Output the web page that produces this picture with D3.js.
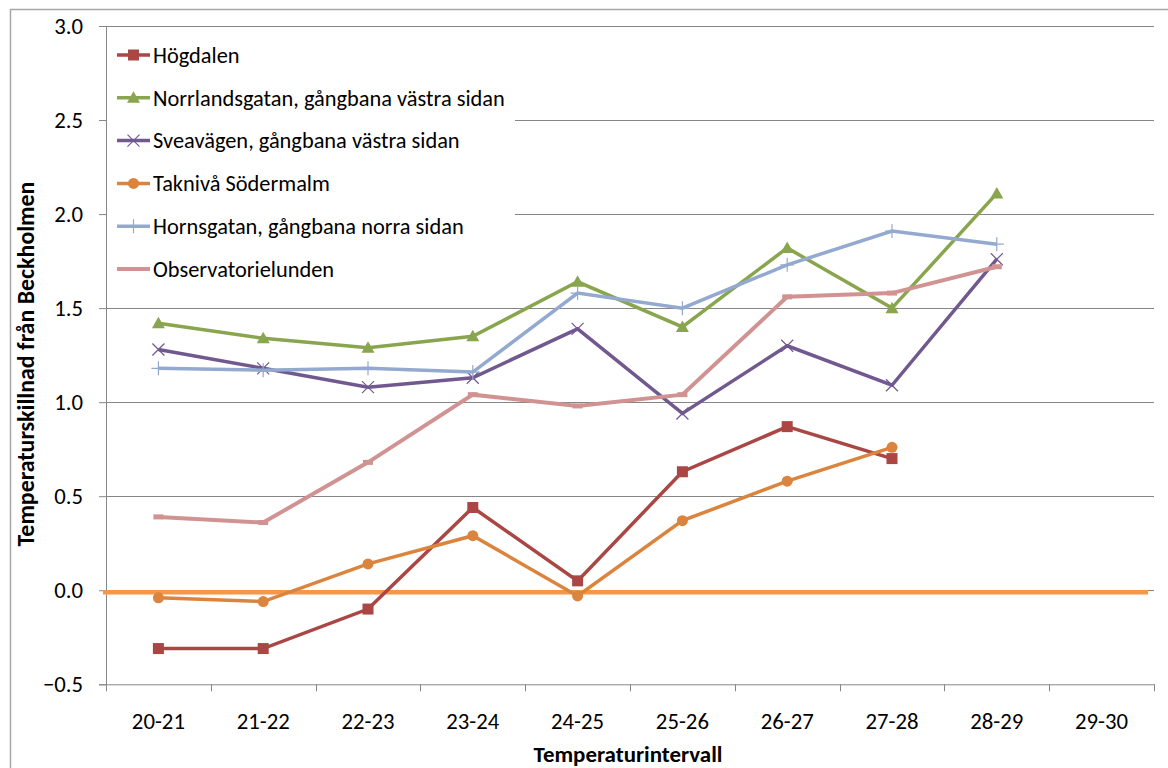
<!DOCTYPE html>
<html><head><meta charset="utf-8">
<script src="https://cdn.jsdelivr.net/npm/d3@7"></script>
<style>
html,body{margin:0;padding:0;background:#fff;}
svg text{font-family:Carlito, Lato, "Open Sans", sans-serif;fill:#000;}
</style></head>
<body>
<svg id="chart" width="1168" height="768"></svg>
<script>
const categories = ["20-21","21-22","22-23","23-24","24-25","25-26","26-27","27-28","28-29","29-30"];
const hogdalen   = [-0.31,-0.31,-0.10,0.44,0.05,0.63,0.87,0.70,null,null];
const norrlands  = [1.42,1.34,1.29,1.35,1.64,1.40,1.82,1.50,2.11,null];
const sveavagen  = [1.28,1.18,1.08,1.13,1.39,0.94,1.30,1.09,1.76,null];
const takniva    = [-0.04,-0.06,0.14,0.29,-0.03,0.37,0.58,0.76,null,null];
const hornsgatan = [1.18,1.17,1.18,1.16,1.58,1.50,1.73,1.91,1.84,null];
const observ     = [0.39,0.36,0.68,1.04,0.98,1.04,1.56,1.58,1.72,null];
const baselineValue = -0.01;
const yTicks = [-0.5,0,0.5,1.0,1.5,2.0,2.5,3.0];
const seriesNames = ["Högdalen","Norrlandsgatan, gångbana västra sidan","Sveavägen, gångbana västra sidan","Taknivå Södermalm","Hornsgatan, gångbana norra sidan","Observatorielunden"];
const yTitle = "Temperaturskillnad från Beckholmen";
const xTitle = "Temperaturintervall";

const series = [
  {name: seriesNames[0], values: hogdalen,   color: "#AA4643", marker: "square"},
  {name: seriesNames[1], values: norrlands,  color: "#89A54E", marker: "triangle"},
  {name: seriesNames[2], values: sveavagen,  color: "#71588F", marker: "x"},
  {name: seriesNames[3], values: takniva,    color: "#DB843D", marker: "circle"},
  {name: seriesNames[4], values: hornsgatan, color: "#93A9CF", marker: "plus"},
  {name: seriesNames[5], values: observ,     color: "#D19392", marker: "dash"}
];

const svg = d3.select("#chart");
const pLeft = 106, pRight = 1154, pTop = 26, pBottom = 684.3;

// font size that makes a sample text reach a target width
function fitSize(sample, targetW, weight){
  const t = svg.append("text").style("font-size","20px").style("font-weight",weight||"normal").text(sample);
  const w = t.node().getComputedTextLength();
  t.remove();
  return 20*targetW/w;
}
const tickFs = (fitSize("20-21",52.7) + fitSize("3.0",29))/2;
const legendFs = fitSize(seriesNames[1],352);
const yTitleFs = fitSize(yTitle,365,"bold");
const xTitleFs = fitSize(xTitle,189,"bold");

// outer chart border
svg.append("rect").attr("x",10.5).attr("y",9.5).attr("width",1300).attr("height",900)
  .attr("fill","none").attr("stroke","#a6a6a6").attr("stroke-width",1.5);

const x = d3.scaleBand().domain(categories).range([pLeft,pRight]).padding(0);
const y = d3.scaleLinear().domain([-0.5,3]).range([pBottom,pTop]);
const cx = c => x(c) + x.bandwidth()/2;

// gridlines
svg.append("g").selectAll("line").data(yTicks.filter(t=>t>-0.5)).join("line")
  .attr("x1",pLeft).attr("x2",pRight)
  .attr("y1",d=>Math.round(y(d))+0.5).attr("y2",d=>Math.round(y(d))+0.5)
  .attr("stroke","#868686").attr("stroke-width",1);

// y axis
const yAxis = svg.append("g").attr("transform",`translate(${pLeft},0)`)
  .call(d3.axisLeft(y).tickValues(yTicks).tickFormat(d3.format(".1f")).tickSize(7).tickPadding(16));
yAxis.select(".domain").attr("stroke","#868686");
yAxis.selectAll(".tick line").attr("stroke","#868686");
yAxis.selectAll(".tick text").style("font-size",tickFs+"px").attr("fill","#000");

// x axis
const xAxis = svg.append("g").attr("transform",`translate(0,${pBottom})`)
  .call(d3.axisBottom(x).tickSize(0).tickPadding(0));
xAxis.select(".domain").attr("stroke","#868686");
xAxis.selectAll(".tick text").style("font-size",tickFs+"px").attr("fill","#000")
  .attr("y",37).attr("dy","0.35em");
// boundary tick marks
const bounds = categories.map(c=>x(c)).concat([x(categories[categories.length-1])+x.bandwidth()]);
svg.append("g").selectAll("line").data(bounds).join("line")
  .attr("x1",d=>Math.round(d)+0.5).attr("x2",d=>Math.round(d)+0.5)
  .attr("y1",pBottom).attr("y2",pBottom+7).attr("stroke","#868686");

// baseline (zero reference)
svg.append("line").attr("x1",pLeft-3).attr("x2",pRight-6)
  .attr("y1",y(baselineValue)).attr("y2",y(baselineValue))
  .attr("stroke","#F79646").attr("stroke-width",4.5);

// marker drawing
function drawMarker(g, type, color, px, py){
  if(type==="square"){
    g.append("rect").attr("x",px-5.5).attr("y",py-5.5).attr("width",11).attr("height",11).attr("fill",color);
  } else if(type==="triangle"){
    g.append("path").attr("d",`M${px},${py-6.5}L${px+6.5},${py+5}L${px-6.5},${py+5}Z`).attr("fill",color);
  } else if(type==="circle"){
    g.append("circle").attr("cx",px).attr("cy",py).attr("r",5.5).attr("fill",color);
  } else if(type==="x"){
    g.append("path").attr("d",`M${px-6},${py-6}L${px+6},${py+6}M${px-6},${py+6}L${px+6},${py-6}`)
      .attr("stroke",color).attr("stroke-width",1.2).attr("fill","none");
  } else if(type==="plus"){
    g.append("path").attr("d",`M${px-7},${py}L${px+7},${py}M${px},${py-7}L${px},${py+7}`)
      .attr("stroke",color).attr("stroke-width",1.2).attr("fill","none");
  } else if(type==="dash"){
    g.append("rect").attr("x",px-5).attr("y",py-2.5).attr("width",10).attr("height",5).attr("fill",color);
  }
}

const line = d3.line().defined(d=>d.v!==null).x(d=>cx(d.c)).y(d=>y(d.v));
series.forEach(s=>{
  const pts = categories.map((c,i)=>({c, v: s.values[i]}));
  const g = svg.append("g");
  g.append("path").datum(pts).attr("d",line).attr("fill","none")
    .attr("stroke",s.color).attr("stroke-width", s.marker==="dash"?4:3.5).attr("stroke-linejoin","miter");
  pts.filter(d=>d.v!==null).forEach(d=>drawMarker(g, s.marker, s.color, cx(d.c), y(d.v)));
});

// legend
const lg = svg.append("g");
lg.append("rect").attr("x",pLeft+1).attr("y",pTop+2).attr("width",408).attr("height",272).attr("fill","#fff");
series.forEach((s,i)=>{
  const ly = 55 + i*42.8;
  const g = lg.append("g");
  g.append("line").attr("x1",117).attr("x2",150).attr("y1",ly).attr("y2",ly)
    .attr("stroke",s.color).attr("stroke-width",s.marker==="dash"?4:3.5);
  if(s.marker!=="dash") drawMarker(g, s.marker, s.color, 133.5, ly);
  g.append("text").attr("x",153).attr("y",ly).attr("dy","0.35em")
    .style("font-size",legendFs+"px").text(s.name);
});

// axis titles
svg.append("text").attr("transform",`translate(34,364) rotate(-90)`)
  .attr("text-anchor","middle").style("font-size",yTitleFs+"px").style("font-weight","bold").text(yTitle);
svg.append("text").attr("x",628).attr("y",762)
  .attr("text-anchor","middle").style("font-size",xTitleFs+"px").style("font-weight","bold").text(xTitle);
</script>
</body></html>
